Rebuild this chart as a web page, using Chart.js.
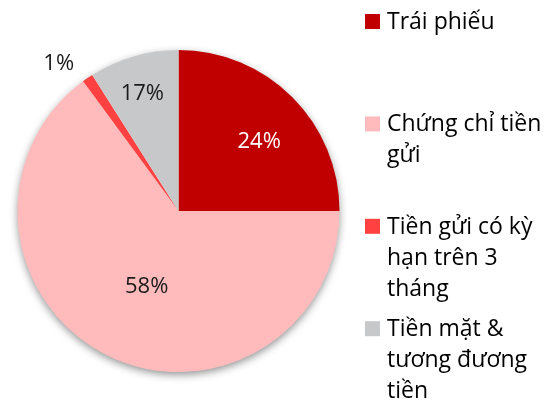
<!DOCTYPE html>
<html>
<head>
<meta charset="utf-8">
<script src="https://cdn.jsdelivr.net/npm/chart.js@4.4.1/dist/chart.umd.min.js"></script>
<style>
  html, body { margin: 0; padding: 0; background: #ffffff; }
  #wrap { position: relative; width: 556px; height: 404px; }
</style>
</head>
<body>
<div id="wrap"><canvas id="c" width="556" height="404"></canvas></div>
<script>
// ---- data ----
const categories = [
  'Trái phiếu',
  'Chứng chỉ tiền gửi',
  'Tiền gửi có kỳ hạn trên 3 tháng',
  'Tiền mặt & tương đương tiền'
];
// slice sizes as drawn in the picture (percent of the circle)
const sliceShares = [25.0, 64.9, 1.1, 9.0];
// data labels as printed on the picture
const shareLabels = ['24%', '58%', '1%', '17%'];
const sliceColors = ['#C00000', '#FFBBBB', '#FF4141', '#C7C8CA'];
const labelColors = ['#FFFFFF', '#1A1A1A', '#1A1A1A', '#1A1A1A'];

const FONT = '"Open Sans", "Noto Sans", sans-serif';

// soft shadow under the pie
const pieShadow = {
  id: 'pieShadow',
  beforeDatasetsDraw(chart) {
    const arc = chart.getDatasetMeta(0).data[0];
    if (!arc) return;
    const ctx = chart.ctx;
    ctx.save();
    ctx.shadowColor = 'rgba(0,0,0,0.45)';
    ctx.shadowBlur = 9;
    ctx.shadowOffsetX = 0;
    ctx.shadowOffsetY = 3;
    ctx.beginPath();
    ctx.arc(arc.x, arc.y, arc.outerRadius - 0.5, 0, Math.PI * 2);
    ctx.fillStyle = '#ffffff';
    ctx.fill();
    ctx.restore();
  }
};

// data labels
const sliceLabels = {
  id: 'sliceLabels',
  afterDatasetsDraw(chart, args, opts) {
    const ctx = chart.ctx;
    const meta = chart.getDatasetMeta(0);
    ctx.save();
    ctx.font = opts.font;
    ctx.textAlign = 'center';
    ctx.textBaseline = 'middle';
    meta.data.forEach((arc, i) => {
      const p = opts.place[i];
      const mid = (arc.startAngle + arc.endAngle) / 2 + p.shift * Math.PI / 180;
      const r = arc.outerRadius * p.r;
      ctx.fillStyle = labelColors[i];
      ctx.fillText(shareLabels[i], arc.x + r * Math.cos(mid), arc.y + r * Math.sin(mid));
    });
    ctx.restore();
  }
};

// wrapped legend on the right
const sideLegend = {
  id: 'sideLegend',
  afterDraw(chart, args, opts) {
    const ctx = chart.ctx;
    const ds = chart.data.datasets[0];
    ctx.save();
    ctx.font = opts.font;
    ctx.textAlign = 'left';
    ctx.textBaseline = 'alphabetic';
    chart.data.labels.forEach((name, i) => {
      const base = opts.firstBaseline + i * opts.step;
      ctx.fillStyle = ds.backgroundColor[i];
      ctx.fillRect(opts.boxX, base - 15, 15, 15);
      ctx.fillStyle = '#000000';
      const words = name.split(' ');
      const lines = [];
      let cur = '';
      words.forEach(w => {
        const t = cur ? cur + ' ' + w : w;
        if (ctx.measureText(t).width > opts.maxWidth && cur) { lines.push(cur); cur = w; }
        else cur = t;
      });
      if (cur) lines.push(cur);
      lines.forEach((ln, k) => ctx.fillText(ln, opts.textX, base + k * opts.lineHeight));
    });
    ctx.restore();
  }
};

new Chart(document.getElementById('c'), {
  type: 'pie',
  data: {
    labels: categories,
    datasets: [{
      data: sliceShares,
      backgroundColor: sliceColors,
      borderWidth: 0,
      hoverOffset: 0
    }]
  },
  options: {
    responsive: false,
    animation: false,
    events: [],
    layout: { padding: { left: 17, right: 216, top: 50, bottom: 32 } },
    plugins: {
      legend: { display: false },
      tooltip: { enabled: false },
      sliceLabels: {
        font: '22px ' + FONT,
        place: [
          { r: 0.66, shift: 4.4 },
          { r: 0.51, shift: -4 },
          { r: 1.18, shift: -4.7 },
          { r: 0.76, shift: -1 }
        ]
      },
      sideLegend: {
        font: '23px ' + FONT,
        boxX: 365, textX: 387, firstBaseline: 29, step: 102.4,
        lineHeight: 31, maxWidth: 162
      }
    }
  },
  plugins: [pieShadow, sliceLabels, sideLegend]
});
</script>
</body>
</html>
